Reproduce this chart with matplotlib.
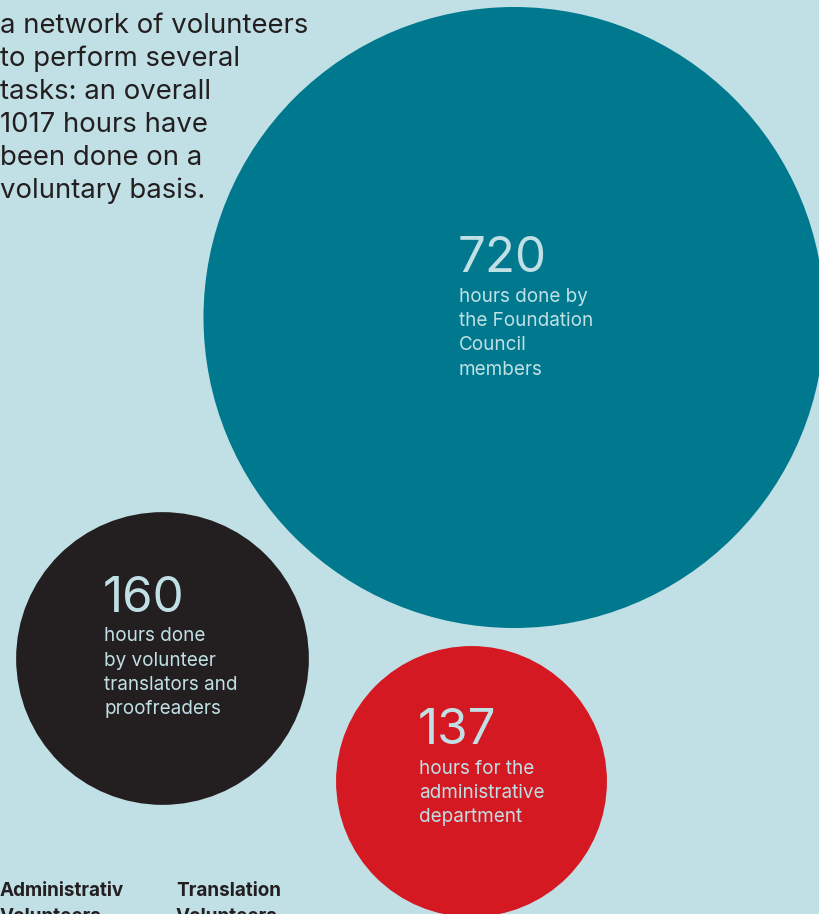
import matplotlib
matplotlib.use('Agg')
import matplotlib.pyplot as plt
from matplotlib.patches import Circle
import numpy as np

# data
hours = [720, 160, 137]
hour_labels = ['720', '160', '137']
descriptions = [
    ['hours done by', 'the Foundation', 'Council', 'members'],
    ['hours done', 'by volunteer', 'translators and', 'proofreaders'],
    ['hours for the', 'administrative', 'department'],
]
intro_lines = [
    'a network of volunteers',
    'to perform several',
    'tasks: an overall',
    '1017 hours have',
    'been done on a',
    'voluntary basis.',
]
footer_labels = [['Administrativ', 'Volunteers'], ['Translation', 'Volunteers']]

# layout (pixel space, y down)
centers = [(514, 317.5), (162.5, 658.5), (471.5, 781.5)]
text_anchor = [(459, 272), (104, 611.5), (419, 744)]
colors = ['#00798f', '#231f20', '#d51922']
bg = '#c1e0e5'
dark = '#231f20'
radius_scale = 310.5 / np.sqrt(720)

plt.rcParams['font.family'] = ['Inter', 'DejaVu Sans']

fig = plt.figure(figsize=(8.19, 9.14), dpi=100, facecolor=bg)
ax = fig.add_axes([0, 0, 1, 1])
ax.set_facecolor(bg)
ax.set_xlim(0, 819)
ax.set_ylim(914, 0)
ax.axis('off')

for value, (cx, cy), color in zip(hours, centers, colors):
    ax.add_patch(Circle((cx, cy), radius_scale * np.sqrt(value), facecolor=color, edgecolor='none'))

for label, lines, (tx, ty) in zip(hour_labels, descriptions, text_anchor):
    ax.text(tx - 1, ty, label, fontsize=35.5, color=bg, va='baseline', ha='left')
    for i, line in enumerate(lines):
        ax.text(tx, ty + 29.5 + 24.5 * i, line, fontsize=13.6, color=bg, va='baseline', ha='left')

for i, line in enumerate(intro_lines):
    ax.text(0, 33 + 33 * i, line, fontsize=19.8, color=dark, va='baseline', ha='left')

for x, pair in zip([0, 176], footer_labels):
    for i, line in enumerate(pair):
        ax.text(x, 896.5 + 26 * i, line, fontsize=13.6, fontweight='bold', color=dark,
                va='baseline', ha='left')

fig.savefig('out.png', dpi=100, facecolor=bg)
